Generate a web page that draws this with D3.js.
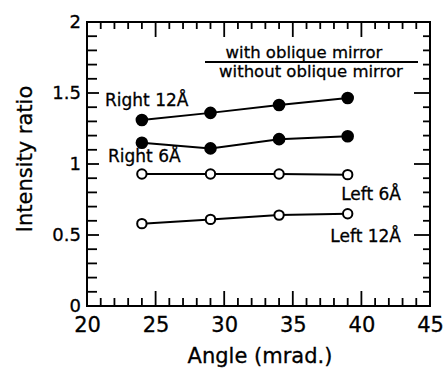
<!DOCTYPE html>
<html>
<head>
<meta charset="utf-8">
<script src="https://cdn.jsdelivr.net/npm/d3@7/dist/d3.min.js"></script>
<style>
  html, body { margin: 0; padding: 0; background: #fff; }
  svg { display: block; background: #fff; }
  text { font-family: "DejaVu Sans", sans-serif; fill: #000; }
</style>
</head>
<body>
<svg id="chart" width="443" height="378"></svg>
<script>
// Angles (mrad.) at which the intensity ratio was measured
const angles = [24, 29, 34, 39];

// Intensity ratio: with oblique mirror / without oblique mirror
const right12 = [1.31, 1.36, 1.415, 1.465];
const right6  = [1.15, 1.11, 1.175, 1.195];
const left6   = [0.93, 0.93, 0.93, 0.925];
const left12  = [0.58, 0.61, 0.64, 0.65];

const seriesNames = ["Right 12Å", "Right 6Å", "Left 6Å", "Left 12Å"];
const seriesFilled = [true, true, false, false];

const xTicks = [20, 25, 30, 35, 40, 45];
const yTicks = [0, 0.5, 1, 1.5, 2];
const yTickLabels = ["0", "0.5", "1", "1.5", "2"];

const svg = d3.select("#chart");

const L = 87, R = 430, T = 22, B = 306;
const x = d3.scaleLinear().domain([20, 45]).range([L, R]);
const y = d3.scaleLinear().domain([0, 2]).range([B, T]);

// Tick labels through the library's axes
svg.append("g").attr("transform", `translate(0,${B})`)
  .call(d3.axisBottom(x).tickValues(xTicks).tickSize(0).tickPadding(11).tickFormat(d3.format("d")))
  .call(g => g.select(".domain").remove())
  .call(g => g.selectAll(".tick line").remove())
  .call(g => g.selectAll("text").attr("font-size", 21).attr("font-family", "DejaVu Sans")
    .attr("stroke", "#000").attr("stroke-width", 0.3));

svg.append("g").attr("transform", `translate(${L},0)`)
  .call(d3.axisLeft(y).tickValues(yTicks).tickSize(0).tickPadding(6)
    .tickFormat((d, i) => yTickLabels[i]))
  .call(g => g.select(".domain").remove())
  .call(g => g.selectAll(".tick line").remove())
  .call(g => g.selectAll("text").attr("font-size", 18).attr("font-family", "DejaVu Sans")
    .attr("stroke", "#000").attr("stroke-width", 0.3));

// Series lines and markers
const allSeries = [right12, right6, left6, left12];
const linePath = d3.line().x((d, i) => x(angles[i])).y(d => y(d));

allSeries.forEach((vals, k) => {
  svg.append("path").datum(vals)
    .attr("d", linePath)
    .attr("fill", "none").attr("stroke", "#000").attr("stroke-width", 2);
  svg.append("g").selectAll("circle").data(vals).enter().append("circle")
    .attr("cx", (d, i) => x(angles[i]))
    .attr("cy", d => y(d))
    .attr("r", seriesFilled[k] ? 5.3 : 4.7)
    .attr("fill", seriesFilled[k] ? "#000" : "#fff")
    .attr("stroke", "#000").attr("stroke-width", 2);
});

// Series labels
const lab = svg.append("g").attr("font-size", 17).attr("stroke", "#000").attr("stroke-width", 0.3);
lab.append("text").attr("x", 105).attr("y", 106).text(seriesNames[0]);
lab.append("text").attr("x", 108).attr("y", 162).text(seriesNames[1]);
lab.append("text").attr("x", 401).attr("y", 200).attr("text-anchor", "end").text(seriesNames[2]);
lab.append("text").attr("x", 401).attr("y", 242).attr("text-anchor", "end").text(seriesNames[3]);

// Ratio legend
const leg = svg.append("g").attr("font-size", 16.5).attr("stroke", "#000").attr("stroke-width", 0.3)
  .attr("text-anchor", "middle");
leg.append("text").attr("x", 304).attr("y", 58).text("with oblique mirror");
svg.append("line").attr("x1", 205).attr("x2", 418).attr("y1", 62).attr("y2", 62)
  .attr("stroke", "#000").attr("stroke-width", 2);
leg.append("text").attr("x", 311).attr("y", 77).text("without oblique mirror");

// Axis titles
svg.append("text").attr("x", 260).attr("y", 363).attr("text-anchor", "middle")
  .attr("font-size", 21).attr("stroke", "#000").attr("stroke-width", 0.3).text("Angle (mrad.)");
svg.append("text").attr("transform", "translate(32,159) rotate(-90)")
  .attr("text-anchor", "middle").attr("font-size", 21).attr("stroke", "#000").attr("stroke-width", 0.3)
  .text("Intensity ratio");

// Plot frame
svg.append("rect")
  .attr("x", L).attr("y", T).attr("width", R - L).attr("height", B - T)
  .attr("fill", "none").attr("stroke", "#000").attr("stroke-width", 2);

// Inward tick marks on all four sides
const minorX = d3.range(21, 45, 1).filter(v => v % 5 !== 0);
const minorY = d3.range(1, 20, 1).filter(v => v % 5 !== 0).map(v => v / 10);

function hTicks(vals, y0, len) {
  svg.append("g").selectAll("line").data(vals).enter().append("line")
    .attr("x1", d => x(d)).attr("x2", d => x(d))
    .attr("y1", y0).attr("y2", y0 + len)
    .attr("stroke", "#000").attr("stroke-width", 1.8);
}
function vTicks(vals, x0, len) {
  svg.append("g").selectAll("line").data(vals).enter().append("line")
    .attr("y1", d => y(d)).attr("y2", d => y(d))
    .attr("x1", x0).attr("x2", x0 + len)
    .attr("stroke", "#000").attr("stroke-width", 1.8);
}
hTicks(minorX, B, -8);
hTicks(xTicks, B, -15);
hTicks(minorX, T, 7);
hTicks(xTicks, T, 15);
vTicks(minorY, L, 10);
vTicks(yTicks, L, 12);
vTicks(minorY, R, -7);
vTicks(yTicks, R, -16);
</script>
</body>
</html>
